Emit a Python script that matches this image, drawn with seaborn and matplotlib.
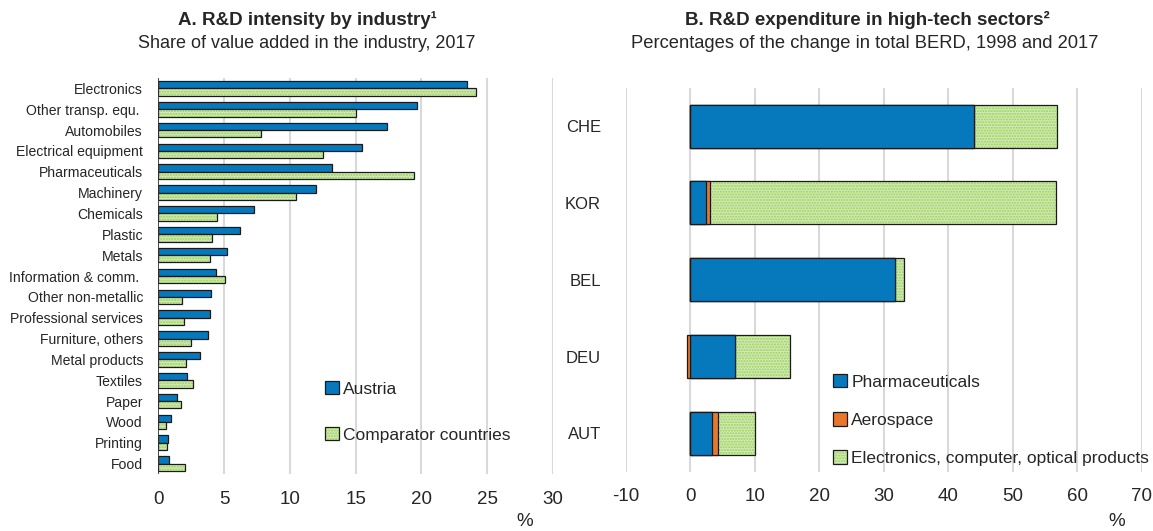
import numpy as np
import pandas as pd
import matplotlib
matplotlib.use("Agg")
import matplotlib.pyplot as plt
from matplotlib.patches import Patch, Rectangle
import seaborn as sns

# Panel A: R&D intensity by industry (share of value added, 2017)
industries = ["Electronics", "Other transp. equ. ", "Automobiles", "Electrical equipment",
              "Pharmaceuticals", "Machinery", "Chemicals", "Plastic", "Metals",
              "Information & comm. ", "Other non-metallic", "Professional services",
              "Furniture, others", "Metal products", "Textiles", "Paper", "Wood",
              "Printing", "Food"]
austria = [23.5, 19.7, 17.4, 15.5, 13.2, 12.0, 7.3, 6.2, 5.25, 4.35, 4.0, 3.9,
           3.8, 3.15, 2.2, 1.45, 0.95, 0.7, 0.8]
comparators = [24.15, 15.05, 7.8, 12.5, 19.4, 10.5, 4.45, 4.05, 3.95, 5.1, 1.8,
               1.95, 2.5, 2.1, 2.6, 1.7, 0.55, 0.65, 2.0]
groups_a = ["Austria", "Comparator countries"]
ticks_a = [0, 5, 10, 15, 20, 25, 30]

# Panel B: R&D expenditure in high-tech sectors (% of change in total BERD)
countries = ["CHE", "KOR", "BEL", "DEU", "AUT"]
pharma = [44.0, 2.45, 31.75, 6.9, 3.35]
aerospace = [0.0, 0.6, 0.0, -0.6, 0.9]
electronics = [12.9, 53.6, 1.3, 8.6, 5.75]
sectors_b = ["Pharmaceuticals", "Aerospace", "Electronics, computer, optical products"]
ticks_b = [-10, 0, 10, 20, 30, 40, 50, 60, 70]

BLUE = "#0679bd"
ORANGE = "#e8762d"
GREEN = "#d0ebb2"
GREEN_DOT = "#9ccf5e"
EDGE = "#1a1a1a"
GRID = "#d9d9d9"

sns.set_theme(style="white")
plt.rcParams["font.family"] = ["Liberation Sans", "DejaVu Sans"]
plt.rcParams["hatch.linewidth"] = 1.0

W, H = 1153, 531
fig = plt.figure(figsize=(W / 100, H / 100), dpi=100)


def fx(px):
    return px / W


def fy(py):
    return 1 - py / H


def dotted(ax, container):
    """Give bars a dotted green fill with a dark outline drawn on top."""
    for p in container.patches:
        p.set_facecolor(GREEN)
        p.set_hatch("......")
        p.set_edgecolor(GREEN_DOT)
        p.set_linewidth(0)
        ax.add_patch(Rectangle(p.get_xy(), p.get_width(), p.get_height(),
                               fill=False, edgecolor=EDGE, linewidth=0.9, zorder=p.get_zorder()))


def dotted_handle():
    return (Patch(facecolor=GREEN, hatch="......", edgecolor=GREEN_DOT, linewidth=0),
            Patch(fill=False, edgecolor=EDGE, linewidth=0.9))


# ---------------- Panel A ----------------
axA = fig.add_axes([fx(158.3), fy(474), fx(553) - fx(158.3), fy(78) - fy(474)])
df_a = pd.DataFrame({
    "industry": industries * 2,
    "value": austria + comparators,
    "group": [groups_a[0]] * len(industries) + [groups_a[1]] * len(industries),
})
sns.barplot(data=df_a, y="industry", x="value", hue="group", hue_order=groups_a,
            order=industries, orient="y", palette=[BLUE, GREEN], width=0.7,
            edgecolor=EDGE, linewidth=0.9, saturation=1, legend=False, ax=axA)
dotted(axA, axA.containers[1])

axA.set_xlim(0, 30)
axA.set_ylim(len(industries) - 0.5, -0.5)
axA.set_xticks(ticks_a)
axA.set_xticklabels([str(t) for t in ticks_a], fontsize=13.5)
axA.tick_params(axis="y", labelsize=10.1, length=0, pad=11)
axA.tick_params(axis="x", length=0, pad=12)
axA.set_xlabel("")
axA.set_ylabel("")
for s in axA.spines.values():
    s.set_visible(False)
axA.xaxis.grid(True, color=GRID, linewidth=1.5)
axA.yaxis.grid(False)
axA.set_axisbelow(True)
axA.axvline(0, color="#333333", linewidth=1.2, zorder=3)

axA.legend(handles=[Patch(facecolor=BLUE, edgecolor=EDGE, linewidth=0.9), dotted_handle()],
           labels=groups_a, loc="upper left",
           bbox_to_anchor=(fx(325), fy(381)), bbox_transform=fig.transFigure,
           frameon=False, fontsize=12.5, handlelength=0.8, handleheight=0.8,
           handletextpad=0.25, labelspacing=1.75, borderpad=0, borderaxespad=0)

fig.text(fx(307), fy(20), "A. R&D intensity by industry\u00b9", ha="center", va="center",
         fontsize=13.5, fontweight="bold")
fig.text(fx(307), fy(43), "Share of value added in the industry, 2017", ha="center",
         va="center", fontsize=13.0)
fig.text(fx(525), fy(522), "%", ha="center", va="center", fontsize=13.5)

# ---------------- Panel B ----------------
axB = fig.add_axes([fx(626), fy(471.7), fx(1141.7) - fx(626), fy(87.7) - fy(471.7)])
p = np.array(pharma)
a = np.array(aerospace)
e = np.array(electronics)
a_pos = np.clip(a, 0, None)
a_neg = np.clip(a, None, 0)
df_b = pd.DataFrame({
    "country": countries,
    "total": p + a_pos + e,
    "pharma_aero": p + a_pos,
    "pharma": p,
    "aero_neg": a_neg,
})
kw = dict(data=df_b, y="country", order=countries, orient="y", width=0.56,
          edgecolor=EDGE, linewidth=0.9, ax=axB)
sns.barplot(x="total", color=GREEN, saturation=1, **kw)
dotted(axB, axB.containers[0])
sns.barplot(x="pharma_aero", color=ORANGE, saturation=1, **kw)
sns.barplot(x="pharma", color=BLUE, saturation=1, **kw)
sns.barplot(x="aero_neg", color=ORANGE, saturation=1, **kw)

axB.set_xlim(-10, 70)
axB.set_ylim(len(countries) - 0.5, -0.5)
axB.set_xticks(ticks_b)
axB.set_xticklabels([str(t) for t in ticks_b], fontsize=13.5)
axB.tick_params(axis="y", labelsize=12, length=0, pad=18)
axB.tick_params(axis="x", length=0, pad=12)
axB.set_xlabel("")
axB.set_ylabel("")
for s in axB.spines.values():
    s.set_visible(False)
axB.xaxis.grid(True, color=GRID, linewidth=1.5)
axB.yaxis.grid(False)
axB.set_axisbelow(True)
axB.axvline(0, color="#333333", linewidth=1.2, zorder=0.5)

axB.legend(handles=[Patch(facecolor=BLUE, edgecolor=EDGE, linewidth=0.9),
                    Patch(facecolor=ORANGE, edgecolor=EDGE, linewidth=0.9),
                    dotted_handle()],
           labels=sectors_b, loc="upper left",
           bbox_to_anchor=(fx(833), fy(374)), bbox_transform=fig.transFigure,
           frameon=False, fontsize=12.5, handlelength=0.8, handleheight=0.8,
           handletextpad=0.25, labelspacing=1.3, borderpad=0, borderaxespad=0)

fig.text(fx(867), fy(20), "B. R&D expenditure in high-tech sectors\u00b2", ha="center",
         va="center", fontsize=13.5, fontweight="bold")
fig.text(fx(865), fy(43), "Percentages of the change in total BERD, 1998 and 2017",
         ha="center", va="center", fontsize=13.2)
fig.text(fx(1117), fy(521), "%", ha="center", va="center", fontsize=13.5)

fig.savefig("out.png", dpi=100)
